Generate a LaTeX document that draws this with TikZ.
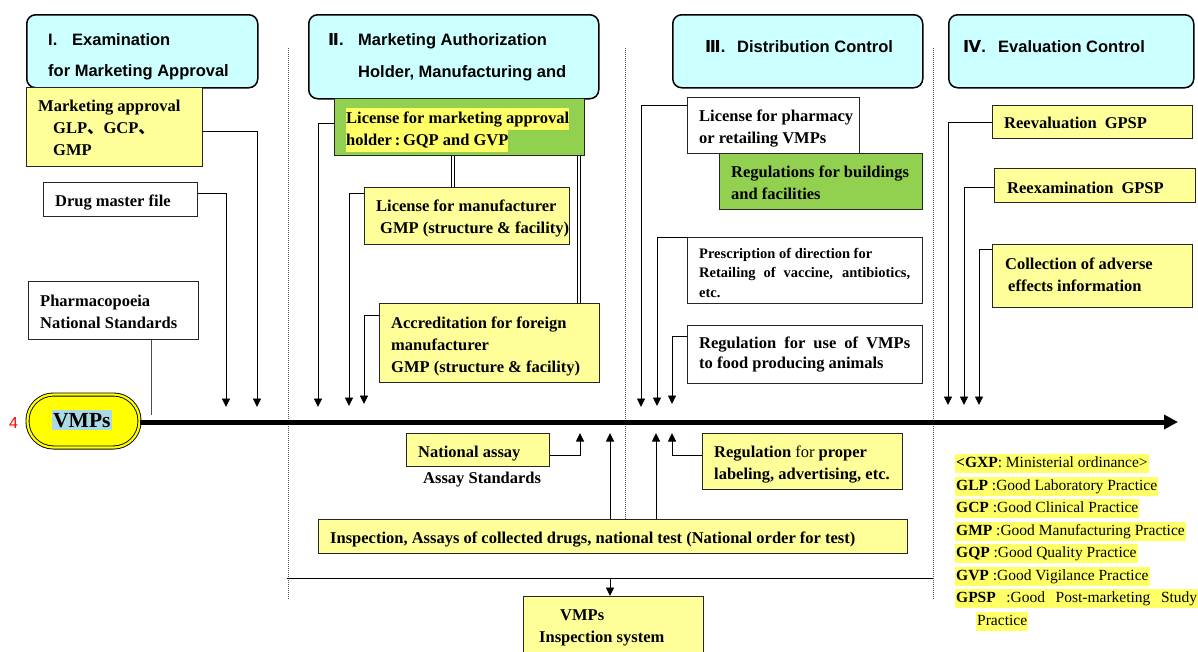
\documentclass[tikz,border=0pt]{standalone}
\usepackage{fontspec}
\setmainfont{Liberation Serif}
\setsansfont{Liberation Sans}
\newfontfamily\cjk{Noto Sans CJK JP}
\newfontfamily\rnfont{DejaVu Sans}
\usetikzlibrary{arrows.meta}
\definecolor{hdrcyan}{HTML}{CCFFFF}
\definecolor{boxy}{HTML}{FFFF99}
\definecolor{boxg}{HTML}{92D050}
\definecolor{hly}{HTML}{FFFF66}
\definecolor{vmpy}{HTML}{FFFF00}
\definecolor{vmpblue}{HTML}{ADD8E6}
\definecolor{sepgray}{HTML}{555555}
\newcommand{\hlline}[1]{{\setlength{\fboxsep}{0pt}\colorbox{hly}{\strut #1}}}
\begin{document}
\begin{tikzpicture}[x=1pt,y=-1pt,
  hdr/.style={draw, line width=1.5pt, rounded corners=9pt, fill=hdrcyan, anchor=north west, inner sep=0pt},
  box/.style={draw=black!85, line width=0.8pt, anchor=north west, inner sep=0pt},
  ybox/.style={box, fill=boxy},
  gbox/.style={box, fill=boxg},
  wbox/.style={box, fill=white},
  htxt/.style={anchor=base west, inner sep=0pt, font=\sffamily\bfseries\fontsize{16.5}{20}\selectfont},
  btxt/.style={anchor=north west, inner sep=0pt, align=left, font=\bfseries\fontsize{16.5}{22}\selectfont},
  ctxt/.style={anchor=north west, inner sep=0pt, align=left, font=\bfseries\fontsize{16.5}{20}\selectfont},
  stxt/.style={anchor=north west, inner sep=0pt, align=left, font=\bfseries\fontsize{14.5}{19.5}\selectfont},
  link/.style={line width=0.9pt, -{Triangle[length=8.5pt,width=8pt]}},
  plainline/.style={line width=0.9pt},
  dbl/.style={draw=black, line width=0.7pt, double=white, double distance=2pt},
  sepline/.style={line width=0.7pt, sepgray, dash pattern=on 1pt off 1pt},
  leg/.style={anchor=base west, fill=hly, inner xsep=1pt, inner ysep=2pt, text height=11.5pt, text depth=4pt, font=\fontsize{15.5}{18}\selectfont}
]
\useasboundingbox (0,0) rectangle (1198,651);

% separators
\coordinate (S1t) at (288,48); \coordinate (S1b) at (288,600);
\coordinate (S2t) at (625,48); \coordinate (S2b) at (625,525);
\coordinate (S3t) at (933,48); \coordinate (S3b) at (933,600);
\draw[sepline] (S1t) -- (S1b);
\draw[sepline] (S2t) -- (S2b);
\draw[sepline] (S3t) -- (S3b);

% boxes
\node[hdr, minimum width=231pt, minimum height=73pt] (hd1) at (26,14) {};
\node[hdr, minimum width=290pt, minimum height=84pt] (hd2) at (308,14) {};
\node[hdr, minimum width=250pt, minimum height=73pt] (hd3) at (672,14) {};
\node[hdr, minimum width=245pt, minimum height=73pt] (hd4) at (948,14) {};

\node[ybox, minimum width=176pt, minimum height=79pt] (mkt) at (26,87) {};
\node[wbox, minimum width=154pt, minimum height=34pt] (dmf) at (43,182) {};
\node[wbox, minimum width=170pt, minimum height=58pt] (pharmaco) at (28,281) {};

\node[gbox, minimum width=250pt, minimum height=57pt] (lic) at (334,98) {};
\node[ybox, minimum width=205pt, minimum height=57pt] (licman) at (364,187) {};
\node[ybox, minimum width=220pt, minimum height=79pt] (accr) at (379,303) {};

\node[wbox, minimum width=172pt, minimum height=56pt] (pharm) at (687,97) {};
\node[gbox, minimum width=203pt, minimum height=56pt] (regbuild) at (719,153) {};
\node[wbox, minimum width=235pt, minimum height=66pt] (presc) at (687,237) {};
\node[wbox, minimum width=235pt, minimum height=58pt] (regfood) at (687,325) {};

\node[ybox, minimum width=200pt, minimum height=33pt] (reeval) at (992,105) {};
\node[ybox, minimum width=201pt, minimum height=34pt] (reexam) at (994,168) {};
\node[ybox, minimum width=200pt, minimum height=63pt] (adverse) at (992,244) {};

\node[ybox, minimum width=143pt, minimum height=33pt] (nat) at (406,433) {};
\node[ybox, minimum width=589pt, minimum height=34pt] (insp) at (318,519) {};
\node[ybox, minimum width=200pt, minimum height=56pt] (regprop) at (702,433) {};
\node[ybox, minimum width=180pt, minimum height=70pt] (insys) at (523,596) {};

% connectors down to the main line
\coordinate (c1) at (257,131); \coordinate (e1) at (257,407);
\draw[link] (mkt.east |- c1) -- (c1) -- (e1);
\coordinate (c2) at (226,193); \coordinate (e2) at (226,407);
\draw[link] (dmf.east |- c2) -- (c2) -- (e2);
\coordinate (c3) at (318,123); \coordinate (e3) at (318,407);
\draw[link] (lic.west |- c3) -- (c3) -- (e3);
\coordinate (c4) at (349,193); \coordinate (e4) at (349,406);
\draw[link] (licman.west |- c4) -- (c4) -- (e4);
\coordinate (c5) at (364,315); \coordinate (e5) at (364,404);
\draw[link] (accr.west |- c5) -- (c5) -- (e5);
\coordinate (c6) at (641,105); \coordinate (e6) at (641,407);
\draw[link] (pharm.west |- c6) -- (c6) -- (e6);
\coordinate (c7) at (657,237); \coordinate (e7) at (657,406);
\draw[link] (presc.north west) -- (c7) -- (e7);
\coordinate (c8) at (672,336); \coordinate (e8) at (672,404);
\draw[link] (regfood.west |- c8) -- (c8) -- (e8);
\coordinate (c9) at (948,122); \coordinate (e9) at (948,405);
\draw[link] (reeval.west |- c9) -- (c9) -- (e9);
\coordinate (c10) at (964,187); \coordinate (e10) at (964,405);
\draw[link] (reexam.west |- c10) -- (c10) -- (e10);
\coordinate (c11) at (979,249); \coordinate (e11) at (979,405);
\draw[link] (adverse.west |- c11) -- (c11) -- (e11);

% connectors up to the main line
\coordinate (c12) at (580,455); \coordinate (e12) at (580,433);
\draw[link] (nat.east |- c12) -- (c12) -- (e12);
\coordinate (e13) at (610,433);
\draw[link] (insp.north -| e13) -- (e13);
\coordinate (e14) at (656,433);
\draw[link] (insp.north -| e14) -- (e14);
\coordinate (c15) at (672,455); \coordinate (e15) at (672,433);
\draw[link] (regprop.west |- c15) -- (c15) -- (e15);

% bottom line
\coordinate (BL) at (287,578); \coordinate (BR) at (933,578); \coordinate (BM) at (610,578);
\draw[plainline] (BL) -- (BR);
\draw[link] (BM) -- (insys.north -| BM);

% double lines
\coordinate (d1) at (453,0); \coordinate (d2) at (579,0);
\draw[dbl] (lic.south -| d1) -- (licman.north -| d1);
\draw[dbl] (lic.south -| d2) -- (accr.north -| d2);

% pharmacopoeia line
\coordinate (P) at (151,415);
\draw[line width=1pt, black!70] (pharmaco.south -| P) -- (P);

% VMPs node and main arrow
\node[draw, line width=0.9pt, double=vmpy, double distance=2.2pt, fill=vmpy, rounded corners=26pt, minimum width=112pt, minimum height=53pt, inner sep=0pt] (vmp) at (83.5,421) {};
\coordinate (mainEnd) at (1178,422);
\draw[line width=5pt, -{Triangle[length=14pt,width=14pt]}] (vmp.east |- mainEnd) -- (mainEnd);
\node[fill=vmpblue, inner sep=1pt, text height=16pt, text depth=2pt, anchor=base west, font=\bfseries\fontsize{21.5}{24}\selectfont] (vmpT) at (52,427) {VMPs};
\node[anchor=base west, inner sep=0pt, text=red, font=\sffamily\fontsize{16}{18}\selectfont] (four) at (9,428) {4};

% header texts
\node[htxt] (h1a) at (48,45) {\makebox[24pt][l]{I.}Examination};
\node[htxt] (h1b) at (48,76) {for Marketing Approval};
\node[htxt] (h2a) at (328,45) {\makebox[30pt][l]{{\rnfont Ⅱ}.}Marketing Authorization};
\node[htxt] (h2b) at (358,77) {Holder, Manufacturing and};
\node[htxt] (h3a) at (705,52) {\makebox[32pt][l]{{\rnfont Ⅲ}.}Distribution Control};
\node[htxt] (h4a) at (963,52) {\makebox[35pt][l]{{\rnfont Ⅳ}.}Evaluation Control};

% box texts
\node[btxt] (mktT) at (38,95.6) {\strut Marketing approval\\\hspace*{15pt}GLP{\cjk 、}GCP{\cjk 、}\\\hspace*{15pt}GMP};
\node[btxt] (dmfT) at (55,190.6) {\strut Drug master file};
\node[btxt] (pharmacoT) at (40,290.6) {\strut Pharmacopoeia\\National Standards};
\node[btxt] (licT) at (346,107.6) {\hlline{License for marketing approval}\\\hlline{holder\,:\,GQP and GVP}};
\node[btxt] (licmanT) at (376,195.6) {\strut License for manufacturer\\\hspace*{4pt}GMP (structure \& facility)};
\node[btxt] (accrT) at (391,312.6) {\strut Accreditation for foreign\\manufacturer\\GMP (structure \& facility)};
\node[btxt] (pharmT) at (699,105.6) {\strut License for pharmacy\\or retailing VMPs};
\node[btxt] (regbuildT) at (731,161.6) {\strut Regulations for buildings\\and facilities};
\node[stxt] (prescT) at (699,244.35) {\strut Prescription of direction for\\\makebox[211pt][s]{Retailing of vaccine, antibiotics,}\\etc.};
\node[ctxt] (regfoodT) at (699,334) {\makebox[211pt][s]{\strut Regulation for use of VMPs}\\to food producing animals};
\node[btxt] (reevalT) at (1004,112.6) {\strut Reevaluation\hspace{8pt}GPSP};
\node[btxt] (reexamT) at (1007,177.6) {\strut Reexamination\hspace{8pt}GPSP};
\node[btxt] (adverseT) at (1005,253.6) {\strut Collection of adverse\\\hspace*{3pt}effects information};
\node[btxt] (natT) at (418,441.6) {\strut National assay};
\node[btxt] (assayT) at (423,467.6) {\strut Assay Standards};
\node[btxt] (inspT) at (330,527.6) {\strut Inspection, Assays of collected drugs, national test (National order for test)};
\node[btxt] (regpropT) at (714,441.6) {\strut Regulation {\mdseries for} proper\\labeling, advertising, etc.};
\node[btxt] (insysT) at (539,604.6) {\strut\hspace*{21pt}VMPs\\Inspection system};

% legend
\node[leg] (lg1) at (955,467) {\textbf{<GXP}: Ministerial ordinance>};
\node[leg] (lg2) at (955,490) {\textbf{GLP} :Good Laboratory Practice};
\node[leg] (lg3) at (955,512) {\textbf{GCP} :Good Clinical Practice};
\node[leg] (lg4) at (955,535) {\textbf{GMP} :Good Manufacturing Practice};
\node[leg] (lg5) at (955,557) {\textbf{GQP} :Good Quality Practice};
\node[leg] (lg6) at (955,580) {\textbf{GVP} :Good Vigilance Practice};
\node[leg] (lg7) at (955,602) {\makebox[241pt][s]{\textbf{GPSP} :Good Post-marketing Study}};
\node[leg] (lg8) at (976,625) {Practice};
\end{tikzpicture}
\end{document}
